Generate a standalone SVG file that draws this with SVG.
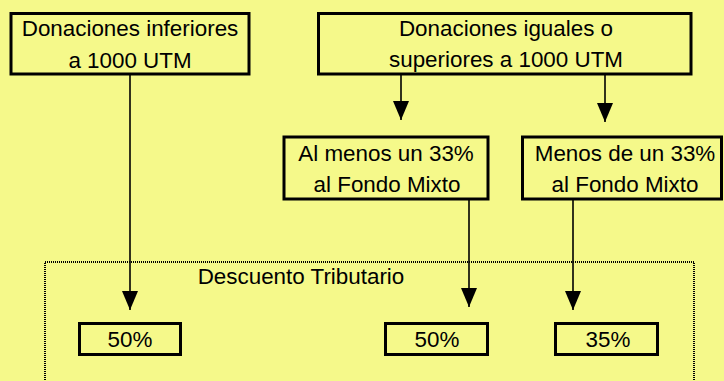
<svg xmlns="http://www.w3.org/2000/svg" width="724" height="381" viewBox="0 0 724 381">
<style>
.box{fill:none;stroke:#000;stroke-width:3}
.t{font-family:"Liberation Sans",Arial,sans-serif;font-size:22.4px;fill:#000;text-anchor:middle}
.c{stroke:#000;stroke-width:1.6;fill:none}
</style>
<defs>
<marker id="ah" markerUnits="userSpaceOnUse" markerWidth="19" markerHeight="16" refX="19" refY="8" orient="auto" viewBox="0 0 19 16">
<path d="M0,0 L19,8 L0,16 Z" fill="#000"/>
</marker>
</defs>
<rect width="724" height="381" fill="#F5F98A"/>
<g id="grupo-descuento">
<rect x="45" y="262" width="649" height="140" fill="none" stroke="#000" stroke-width="2" stroke-dasharray="1 1" shape-rendering="crispEdges"/>
<text class="t" x="301" y="284">Descuento Tributario</text>
</g>
<g id="n1">
<rect class="box" x="11" y="13.5" width="238" height="60.5"/>
<text class="t" x="130" y="36">Donaciones inferiores</text>
<text class="t" x="130" y="68">a 1000 UTM</text>
</g>
<g id="n2">
<rect class="box" x="318.5" y="13.5" width="372.5" height="60.5"/>
<text class="t" x="506" y="36">Donaciones iguales o</text>
<text class="t" x="506" y="67">superiores a 1000 UTM</text>
</g>
<g id="n3">
<rect class="box" x="284" y="137" width="204" height="62"/>
<text class="t" x="386" y="161">Al menos un 33%</text>
<text class="t" x="387" y="192">al Fondo Mixto</text>
</g>
<g id="n4">
<rect class="box" x="522.5" y="137" width="199" height="62"/>
<text class="t" x="625" y="161">Menos de un 33%</text>
<text class="t" x="625" y="192">al Fondo Mixto</text>
</g>
<g id="p1">
<rect class="box" x="79.5" y="323.5" width="101" height="31"/>
<text class="t" x="130" y="347">50%</text>
</g>
<g id="p2">
<rect class="box" x="385.5" y="323.5" width="102" height="31"/>
<text class="t" x="437" y="347">50%</text>
</g>
<g id="p3">
<rect class="box" x="555.5" y="323.5" width="102" height="31"/>
<text class="t" x="608" y="347">35%</text>
</g>
<g id="connectors">
<line class="c" x1="130" y1="75" x2="130" y2="310" marker-end="url(#ah)"/>
<line class="c" x1="401" y1="75" x2="401" y2="120" marker-end="url(#ah)"/>
<line class="c" x1="605" y1="75" x2="605" y2="122" marker-end="url(#ah)"/>
<line class="c" x1="469" y1="200" x2="469" y2="307" marker-end="url(#ah)"/>
<line class="c" x1="573" y1="200" x2="573" y2="310" marker-end="url(#ah)"/>
</g>
</svg>
